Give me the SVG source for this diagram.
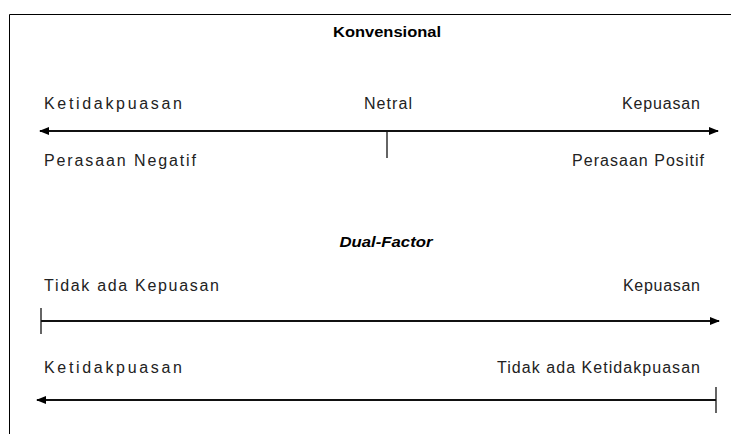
<svg xmlns="http://www.w3.org/2000/svg" width="731" height="434" viewBox="0 0 731 434">
<style>
.t{font-family:"Liberation Sans",Arial,sans-serif;font-size:16px;fill:#222}
.h{font-family:"Liberation Sans",Arial,sans-serif;font-size:14px;font-weight:bold;fill:#000}
.ln{stroke:#111;stroke-width:2;fill:none}
.tk{stroke:#111;stroke-width:1.3;fill:none}
</style>
<defs>
<marker id="ah" markerWidth="10" markerHeight="8" refX="9" refY="4" orient="auto-start-reverse" markerUnits="userSpaceOnUse">
<path d="M0,0 L10,4 L0,8 Z" fill="#000"/>
</marker>
</defs>
<rect x="0" y="0" width="731" height="434" fill="#fff"/>
<path d="M9.5,434 V14.5 H731" stroke="#000" stroke-width="1" fill="none"/>
<g id="title-konvensional"><text class="h" x="387" y="37" text-anchor="middle" textLength="108" lengthAdjust="spacingAndGlyphs">Konvensional</text></g>
<g id="label-ketidakpuasan-1"><text class="t" x="44" y="109" textLength="138" lengthAdjust="spacing">Ketidakpuasan</text></g>
<g id="label-netral"><text class="t" x="364" y="109" textLength="48" lengthAdjust="spacing">Netral</text></g>
<g id="label-kepuasan-1"><text class="t" x="622" y="109" textLength="78" lengthAdjust="spacing">Kepuasan</text></g>
<g id="label-negatif"><text class="t" x="44" y="166" textLength="152" lengthAdjust="spacing">Perasaan Negatif</text></g>
<g id="label-positif"><text class="t" x="572" y="166" textLength="132" lengthAdjust="spacing">Perasaan Positif</text></g>
<g id="title-dualfactor"><text class="h" x="386" y="247" text-anchor="middle" font-style="italic" textLength="93" lengthAdjust="spacingAndGlyphs">Dual-Factor</text></g>
<g id="label-tidak-kepuasan"><text class="t" x="44" y="291" textLength="175" lengthAdjust="spacing">Tidak ada Kepuasan</text></g>
<g id="label-kepuasan-2"><text class="t" x="623" y="291" textLength="77" lengthAdjust="spacing">Kepuasan</text></g>
<g id="label-ketidakpuasan-2"><text class="t" x="44" y="373" textLength="138" lengthAdjust="spacing">Ketidakpuasan</text></g>
<g id="label-tidak-ketidakpuasan"><text class="t" x="497" y="373" textLength="203" lengthAdjust="spacing">Tidak ada Ketidakpuasan</text></g>
<g id="connectors">
<line class="ln" x1="40" y1="131" x2="718" y2="131" marker-start="url(#ah)" marker-end="url(#ah)"/>
<line class="tk" x1="387" y1="131" x2="387" y2="158"/>
<line class="ln" x1="41" y1="321" x2="719" y2="321" marker-end="url(#ah)"/>
<line class="tk" x1="41" y1="308" x2="41" y2="334"/>
<line class="ln" x1="716" y1="400" x2="37" y2="400" marker-end="url(#ah)"/>
<line class="tk" x1="716" y1="387" x2="716" y2="413"/>
</g>
</svg>
